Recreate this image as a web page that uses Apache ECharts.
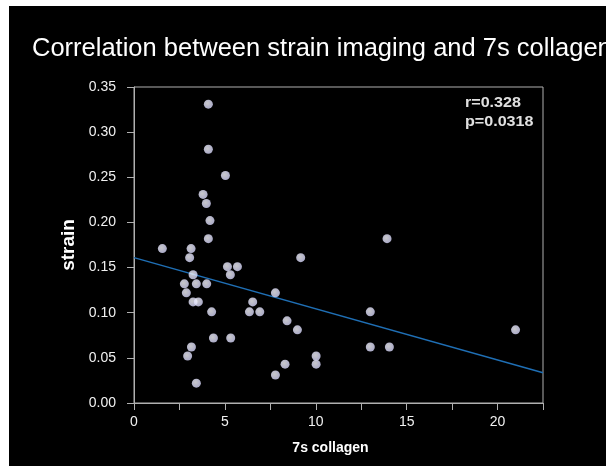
<!DOCTYPE html>
<html>
<head>
<meta charset="utf-8">
<script src="https://cdn.jsdelivr.net/npm/echarts@6/dist/echarts.min.js"></script>
<style>
  html, body { margin: 0; padding: 0; background: #ffffff; }
  #wrap { position: relative; width: 606px; height: 466px; background: #ffffff; overflow: hidden; }
  #chart { position: absolute; left: 9px; top: 6px; width: 597px; height: 460px; background: #000000; }
</style>
</head>
<body>
<div id="wrap"><div id="chart"></div></div>
<script>
// Data
const collagen = [
  1.56, 3.14, 3.06, 4.09, 4.09, 5.03, 3.80, 3.98, 4.18, 4.09,
  5.14, 5.69, 3.25, 5.30, 2.77, 3.43, 4.00, 2.88, 3.25, 3.54,
  4.27, 6.35, 6.92, 6.53, 7.78, 4.37, 5.32, 3.16, 2.95, 3.43,
  7.78, 9.17, 13.0, 8.42, 8.99, 13.0, 14.05, 10.02, 10.02, 8.31,
  13.92, 20.99
]
const strain = [
  0.171, 0.171, 0.161, 0.331, 0.281, 0.252, 0.231, 0.221, 0.202, 0.182,
  0.151, 0.151, 0.142, 0.142, 0.132, 0.132, 0.132, 0.122, 0.112, 0.112,
  0.101, 0.101, 0.101, 0.112, 0.122, 0.072, 0.072, 0.062, 0.052, 0.022,
  0.031, 0.161, 0.101, 0.091, 0.081, 0.062, 0.062, 0.052, 0.043, 0.043,
  0.182, 0.081
]

// Regression line end points
const fitX = [0, 22.5]
const fitY = [0.161, 0.0336]

const statLines = ['r=0.328', 'p=0.0318']

const chart = echarts.init(document.getElementById('chart'))

const option = {
  backgroundColor: '#000000',
  animation: false,
  title: {
    text: 'Correlation between strain imaging and 7s collagen',
    left: 18,
    top: 25,
    textStyle: {
      color: '#ffffff',
      fontFamily: 'Liberation Sans, Arial, sans-serif',
      fontSize: 25.5,
      fontWeight: 'normal'
    }
  },
  grid: {
    left: 125,
    right: 63,
    top: 81,
    bottom: 63,
    show: true,
    borderColor: '#b0b0b0',
    borderWidth: 1,
    backgroundColor: 'transparent'
  },
  xAxis: {
    type: 'value',
    min: 0,
    max: 22.5,
    interval: 2.5,
    name: '7s collagen',
    nameLocation: 'middle',
    nameGap: 38,
    nameTextStyle: {
      color: '#ffffff',
      fontFamily: 'Liberation Sans, Arial, sans-serif',
      fontSize: 14,
      fontWeight: 'bold',
      padding: [0, 16, 0, 0]
    },
    axisLine: { show: true, lineStyle: { color: '#b0b0b0', width: 1 } },
    axisTick: { show: true, length: 7, lineStyle: { color: '#b0b0b0' } },
    splitLine: { show: false },
    axisLabel: {
      color: '#f0f0f0',
      fontFamily: 'Liberation Sans, Arial, sans-serif',
      fontSize: 14,
      margin: 12,
      formatter: v => (v % 5 === 0 ? String(v) : '')
    }
  },
  yAxis: {
    type: 'value',
    min: 0,
    max: 0.35,
    interval: 0.05,
    name: 'strain',
    nameLocation: 'middle',
    nameGap: 28,
    nameTextStyle: {
      color: '#ffffff',
      fontFamily: 'Liberation Sans, Arial, sans-serif',
      fontSize: 19,
      fontWeight: 'bold'
    },
    axisLine: { show: true, lineStyle: { color: '#b0b0b0', width: 1 } },
    axisTick: { show: true, length: 7, lineStyle: { color: '#b0b0b0' } },
    splitLine: { show: false },
    axisLabel: {
      color: '#f0f0f0',
      fontFamily: 'Liberation Sans, Arial, sans-serif',
      fontSize: 14,
      margin: 18,
      formatter: v => v.toFixed(2)
    }
  },
  graphic: [{
    type: 'text',
    left: 456,
    top: 88,
    scaleX: 1.15,
    style: {
      text: statLines.join('\n'),
      fill: '#e0e0e0',
      font: 'bold 14px "Liberation Sans", Arial, sans-serif',
      lineHeight: 19
    }
  }],
  series: [
    {
      type: 'line',
      data: fitX.map((x, i) => [x, fitY[i]]),
      symbol: 'none',
      lineStyle: { color: '#1f6fb5', width: 1.5 },
      z: 2
    },
    {
      type: 'scatter',
      data: collagen.map((x, i) => [x, strain[i]]),
      symbolSize: 9,
      itemStyle: {
        color: {
          type: 'radial', x: 0.4, y: 0.4, r: 0.6,
          colorStops: [
            { offset: 0, color: '#fafaff' },
            { offset: 1, color: '#d6d6fa' }
          ]
        }
      },
      z: 3
    }
  ]
}

chart.setOption(option)
</script>
</body>
</html>
